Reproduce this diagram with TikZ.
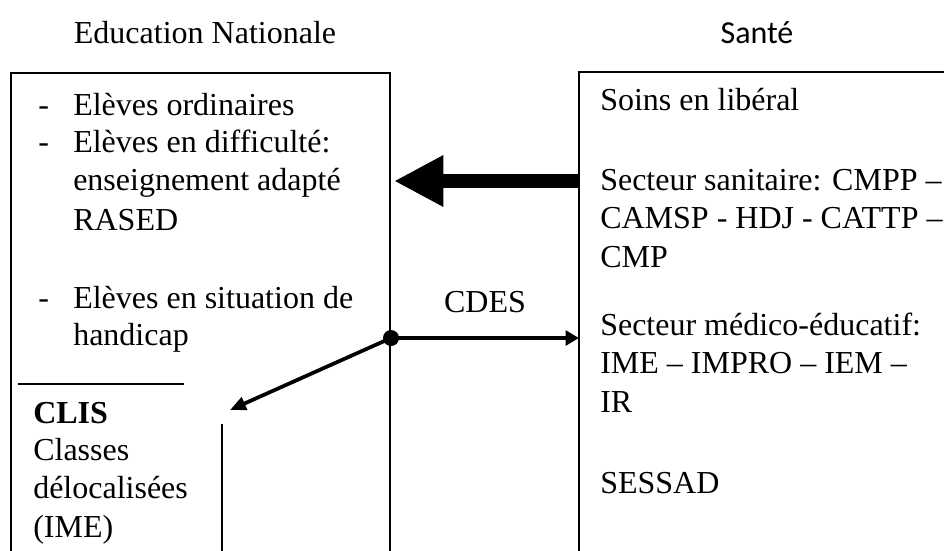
\documentclass[tikz,border=0pt]{standalone}
\usepackage{fontspec}
\setmainfont{Liberation Serif}
\newfontfamily\santefont{Carlito}
\usetikzlibrary{arrows.meta, positioning}

\begin{document}
\begin{tikzpicture}[x=0.75pt, y=-0.75pt,
  txt/.style={inner sep=0pt, anchor=base west, font=\fontsize{24}{28}\selectfont},
  frame/.style={line width=1.5pt},
  link/.style={line width=2.5pt, -{Triangle[length=10pt, width=11pt]}}]
  \useasboundingbox (0,0) rectangle (944,550);
  % titres
  \node[txt, anchor=base] (edu) at (205,43) {Education Nationale};
  \node[txt, anchor=base, font=\santefont\fontsize{24}{28}\selectfont] (sante) at (757,43) {Santé};
  % cadres
  \draw[frame] (11,560) -- (11,73) -- (390,73) -- (390,560);
  \draw[frame] (579,560) -- (579,72) -- (950,72);
  \draw[frame] (18,384) -- (184,384);
  \draw[frame] (222,424) -- (222,560);
  % Education Nationale
  \node[txt] (dash1) at (38,115) {-};
  \node[txt] (ord) at (73,115) {Elèves ordinaires};
  \node[txt] (dash2) at (38,152) {-};
  \node[txt] (diff) at (73,152) {Elèves en difficulté:};
  \node[txt] (adapt) at (73,190) {enseignement adapté};
  \node[txt] (rased) at (73,230) {RASED};
  \node[txt] (dash3) at (38,308) {-};
  \node[txt] (situ) at (73,308) {Elèves en situation de};
  \node[txt] (hand) at (73,345) {handicap};
  \node[txt] (clis) at (33,423) {\textbf{CLIS}};
  \node[txt] (cls) at (33,460) {Classes};
  \node[txt] (deloc) at (33,498) {délocalisées};
  \node[txt] (ime) at (33,537) {(IME)};
  % Sante
  \node[txt] (soins) at (600,110) {Soins en libéral};
  \node[txt] (sani1) at (600,190) {Secteur sanitaire: CMPP –};
  \node[txt] (sani2) at (600,228) {CAMSP - HDJ - CATTP –};
  \node[txt] (sani3) at (600,267) {CMP};
  \node[txt] (medi1) at (600,335) {Secteur médico-éducatif:};
  \node[txt] (medi2) at (600,373) {IME – IMPRO – IEM –};
  \node[txt] (medi3) at (600,412) {IR};
  \node[txt] (sessad) at (600,493) {SESSAD};
  % fleches
  \coordinate (big-from) at (579,181);
  \coordinate (big-to) at (394,181);
  \coordinate (medi-in) at (579,338);
  \coordinate (clis-in) at (230,410);
  \node[circle, fill, inner sep=0pt, minimum size=12pt] (dot) at (391,338) {};
  \draw[line width=10.5pt, -{Triangle[length=37pt, width=36pt]}] (big-from) -- (big-to);
  \draw[link] (dot.center) -- (medi-in) node[txt, anchor=base, midway, yshift=19pt] (cdes) {CDES};
  \draw[line width=2.8pt, -{Triangle[length=12pt, width=10pt]}] (dot.center) -- (clis-in);
\end{tikzpicture}
\end{document}
